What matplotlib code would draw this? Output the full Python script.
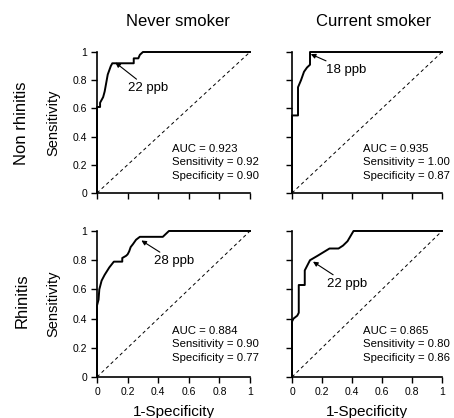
import matplotlib
matplotlib.use('Agg')
import matplotlib.pyplot as plt

plt.rcParams['font.family'] = ['Liberation Sans', 'DejaVu Sans']

# ROC curves
nr_never_x = [0, 0, 0.02, 0.02, 0.03, 0.04, 0.05, 0.06, 0.07, 0.08, 0.09, 0.10, 0.24, 0.24, 0.27, 0.28, 0.30, 1.0]
nr_never_y = [0, 0.61, 0.61, 0.64, 0.66, 0.68, 0.72, 0.78, 0.84, 0.87, 0.90, 0.92, 0.92, 0.955, 0.955, 0.98, 1.0, 1.0]

nr_curr_x = [0, 0, 0.04, 0.04, 0.06, 0.08, 0.10, 0.12, 0.12, 1.0]
nr_curr_y = [0, 0.55, 0.55, 0.75, 0.80, 0.86, 0.89, 0.91, 1.0, 1.0]

rh_never_x = [0, 0, 0.01, 0.015, 0.03, 0.05, 0.08, 0.11, 0.165, 0.165, 0.19, 0.20, 0.21, 0.22, 0.235, 0.255, 0.28, 0.43, 0.47, 1.0]
rh_never_y = [0, 0.49, 0.53, 0.60, 0.66, 0.70, 0.75, 0.79, 0.79, 0.815, 0.83, 0.84, 0.86, 0.89, 0.91, 0.94, 0.96, 0.96, 1.0, 1.0]

rh_curr_x = [0, 0, 0.01, 0.035, 0.045, 0.045, 0.085, 0.085, 0.12, 0.17, 0.25, 0.31, 0.34, 0.37, 0.41, 1.0]
rh_curr_y = [0, 0.38, 0.40, 0.42, 0.44, 0.63, 0.63, 0.73, 0.80, 0.83, 0.88, 0.88, 0.90, 0.93, 1.0, 1.0]

cutoffs = ['22 ppb', '18 ppb', '28 ppb', '22 ppb']
cut_pts = [(0.12, 0.925), (0.125, 0.985), (0.29, 0.935), (0.14, 0.79)]
auc = ['0.923', '0.935', '0.884', '0.865']
sens = ['0.92', '1.00', '0.90', '0.80']
spec = ['0.90', '0.87', '0.77', '0.86']

col_titles = ['Never smoker', 'Current smoker']
row_titles = ['Non rhinitis', 'Rhinitis']
ticks = [0, 0.2, 0.4, 0.6, 0.8, 1]
tick_lbl = ['0', '0.2', '0.4', '0.6', '0.8', '1']

fig = plt.figure(figsize=(4.54, 4.18), dpi=100)

rects = [[0.2137, 0.5383, 0.337, 0.3373],
         [0.6432, 0.5383, 0.3304, 0.3373],
         [0.2137, 0.0981, 0.337, 0.3493],
         [0.6432, 0.0981, 0.3304, 0.3493]]
curves = [(nr_never_x, nr_never_y), (nr_curr_x, nr_curr_y),
          (rh_never_x, rh_never_y), (rh_curr_x, rh_curr_y)]
# text offset for the cutoff label (relative to marked point)
txt_off = [(0.08, -0.18), (0.10, -0.11), (0.08, -0.14), (0.09, -0.15)]

for i in range(4):
    ax = fig.add_axes(rects[i])
    cx, cy = curves[i]
    ax.plot([0, 1], [0, 1], color='black', lw=0.7, ls=(0, (3.5, 3)), clip_on=False)
    ax.plot(cx, cy, color='black', lw=1.4, clip_on=False)
    ax.set_xlim(0, 1)
    ax.set_ylim(0, 1)
    for s in ['top', 'right']:
        ax.spines[s].set_visible(False)
    for s in ['left', 'bottom']:
        ax.spines[s].set_linewidth(1.2)
    ax.set_xticks(ticks)
    ax.set_yticks(ticks)
    ax.tick_params(direction='out', length=4, width=1, labelsize=7.5, pad=3)
    if i % 2 == 0:
        ax.set_yticklabels(tick_lbl)
        ax.set_ylabel('Sensitivity', fontsize=10.5)
        ax.yaxis.set_label_coords(-0.24, 0.5)
    else:
        ax.set_yticklabels([])
    if i >= 2:
        ax.set_xticklabels(tick_lbl)
        ax.set_xlabel('1-Specificity', fontsize=11)
        ax.xaxis.set_label_coords(0.5, -0.19)
    else:
        ax.set_xticklabels([])

    px, py = cut_pts[i]
    dx, dy = txt_off[i]
    ax.annotate(cutoffs[i], xy=(px, py), xytext=(px + dx, py + dy),
                fontsize=9.5, va='center', ha='left',
                arrowprops=dict(arrowstyle='-|>', color='black', lw=0.8,
                                mutation_scale=7, shrinkA=0, shrinkB=0))
    ax.text(0.49 if i % 2 == 0 else 0.475, 0.35,
            'AUC = ' + auc[i] + '\nSensitivity = ' + sens[i] + '\nSpecificity = ' + spec[i],
            fontsize=8.2, va='top', ha='left', linespacing=1.45)

fig.text(0.392, 1 - 22 / 418, col_titles[0], fontsize=12, ha='center', va='center')
fig.text(0.822, 1 - 22 / 418, col_titles[1], fontsize=12, ha='center', va='center')
fig.text(22 / 454, 1 - 123 / 418, row_titles[0], fontsize=12, rotation=90, ha='center', va='center')
fig.text(22 / 454, 1 - 301 / 418, row_titles[1], fontsize=12, rotation=90, ha='center', va='center')

fig.savefig('out.png', dpi=100)
